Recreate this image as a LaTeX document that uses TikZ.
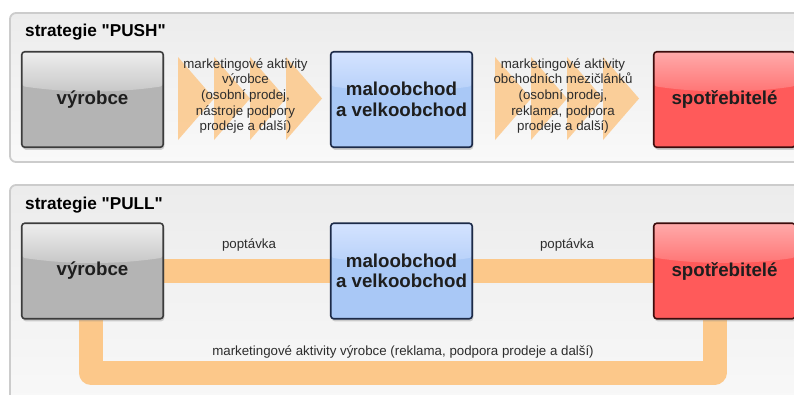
\documentclass[tikz,border=0pt]{standalone}
\usepackage{fontspec}
\setmainfont{Liberation Sans}
\usetikzlibrary{calc,shadows}
\pgfdeclarelayer{back}
\pgfdeclarelayer{bg}
\pgfsetlayers{back,bg,main}
\definecolor{orng}{RGB}{252,200,138}
\definecolor{panelB}{RGB}{204,204,204}
\definecolor{panelT}{RGB}{236,236,236}
\definecolor{panelBt}{RGB}{249,249,249}
\definecolor{grayB}{RGB}{60,60,60}
\definecolor{grayBase}{RGB}{180,180,180}
\definecolor{grayTop}{RGB}{238,238,238}
\definecolor{grayMid}{RGB}{198,198,198}
\definecolor{blueB}{RGB}{28,42,72}
\definecolor{blueBase}{RGB}{169,200,246}
\definecolor{blueTop}{RGB}{212,227,255}
\definecolor{blueMid}{RGB}{182,208,249}
\definecolor{redB}{RGB}{60,12,12}
\definecolor{redBase}{RGB}{255,90,90}
\definecolor{redTop}{RGB}{255,170,170}
\definecolor{redMid}{RGB}{255,115,115}
\definecolor{boxtext}{RGB}{30,30,30}
\definecolor{lbltext}{RGB}{45,45,45}
\newcommand\boxfont{\fontsize{18.7}{20.5}\selectfont\bfseries}
\newcommand\lblfont{\fontsize{13.3}{15.6}\selectfont}
\newcommand\titlefont{\fontsize{17.2}{20}\selectfont\bfseries}
\newcommand\qq{\XeTeXglyph\numexpr\XeTeXcharglyph"22\relax}
\tikzset{
  panel/.style={draw=panelB, line width=1.8pt, rounded corners=6pt, top color=panelT, bottom color=panelBt},
  gloss/.style 2 args={path picture={
    \coordinate (pa) at (path picture bounding box.north west);
    \coordinate (pb) at (path picture bounding box.south east);
    \coordinate (gr) at ($(pa -| pb)!0.36!(pb)$);
    \coordinate (gl) at ($(pa)!0.36!(pa |- pb)$);
    \fill[top color=#1, bottom color=#2] (pa) -- (pa -| pb) -- (gr)
      .. controls ($(gr)!0.33!(gl)+(0,7)$) and ($(gl)!0.33!(gr)+(0,7)$) .. (gl) -- cycle;
  }},
  box/.style={rectangle, rounded corners=3pt, line width=1.6pt, minimum width=141.5pt,
    minimum height=95.5pt, align=center, text=boxtext, font=\boxfont,
    drop shadow={opacity=0.35, shadow xshift=1pt, shadow yshift=-2.5pt}},
  graybox/.style={box, draw=grayB, fill=grayBase, gloss={grayTop}{grayMid}},
  bluebox/.style={box, draw=blueB, fill=blueBase, gloss={blueTop}{blueMid}},
  redbox/.style={box, draw=redB, fill=redBase, gloss={redTop}{redMid}},
  band/.style={draw=orng, line width=24pt, line join=round},
  chev/.style={fill=orng, fill opacity=0.85},
  lbl/.style={font=\lblfont, text=lbltext, align=center},
  ttl/.style={font=\titlefont, anchor=base west, text=black, inner sep=0pt}
}
\begin{document}
\begin{tikzpicture}[x=1pt, y=-1pt]
\useasboundingbox (0,0) rectangle (794,394);
\begin{pgfonlayer}{back}
\fill[white] (0,0) rectangle (794,394);
\path[panel] (10,13) rectangle (812,162);
\path[panel] (10,185) rectangle (812,420);
\end{pgfonlayer}
\node[ttl] (t1) at (25,36) {strategie \qq PUSH\qq};
\node[ttl] (t2) at (25,209) {strategie \qq PULL\qq};
% PUSH boxes
\node[graybox] (v1) at (92.5,99.5) {výrobce};
\node[bluebox] (m1) at (401.5,99.5) {maloobchod\\a velkoobchod};
\node[redbox]  (s1) at (724.5,99.5) {spotřebitelé};
% chevrons
\coordinate (c1) at ($(v1.east)+(14,-1)$);
\coordinate (c2) at ($(m1.east)+(22,-1)$);
\begin{pgfonlayer}{bg}
\foreach \k in {0,1,2,3}{
  \fill[chev] ($(c1)+(36*\k,-41.5)$) -- ($(c1)+(36*\k+36,0)$) -- ($(c1)+(36*\k,41.5)$) -- cycle;
  \fill[chev] ($(c2)+(36*\k,-41.5)$) -- ($(c2)+(36*\k+36,0)$) -- ($(c2)+(36*\k,41.5)$) -- cycle;
}
\end{pgfonlayer}
\node[lbl] (l1) at ($(v1.east)!0.5!(m1.west)+(-1.5,-3.5)$)
  {marketingové aktivity\\výrobce\\(osobní prodej,\\nástroje podpory\\prodeje a další)};
\node[lbl] (l2) at ($(m1.east)!0.5!(s1.west)+(0,-3.5)$)
  {marketingové aktivity\\obchodních mezičlánků\\(osobní prodej,\\reklama, podpora\\prodeje a další)};
% PULL
\node[graybox] (v2) at (92.5,271) {výrobce};
\node[bluebox] (m2) at (401.5,271) {maloobchod\\a velkoobchod};
\node[redbox]  (s2) at (724.5,271) {spotřebitelé};
\coordinate (ub) at (400,372.5);
\begin{pgfonlayer}{bg}
\draw[band] (v2.east) -- (m2.west);
\draw[band] (m2.east) -- (s2.west);
\draw[band] ([xshift=-2pt]v2.south) |- (ub) -| ([xshift=-10pt]s2.south);
\end{pgfonlayer}
\node[lbl] (p1) at ($(v2.east)!0.5!(m2.west)+(2,-26)$) {poptávka};
\node[lbl] (p2) at ($(m2.east)!0.5!(s2.west)+(4,-26)$) {poptávka};
\node[lbl] (p3) at ($(ub)+(3,-21)$) {marketingové aktivity výrobce (reklama, podpora prodeje a další)};
\end{tikzpicture}
\end{document}
